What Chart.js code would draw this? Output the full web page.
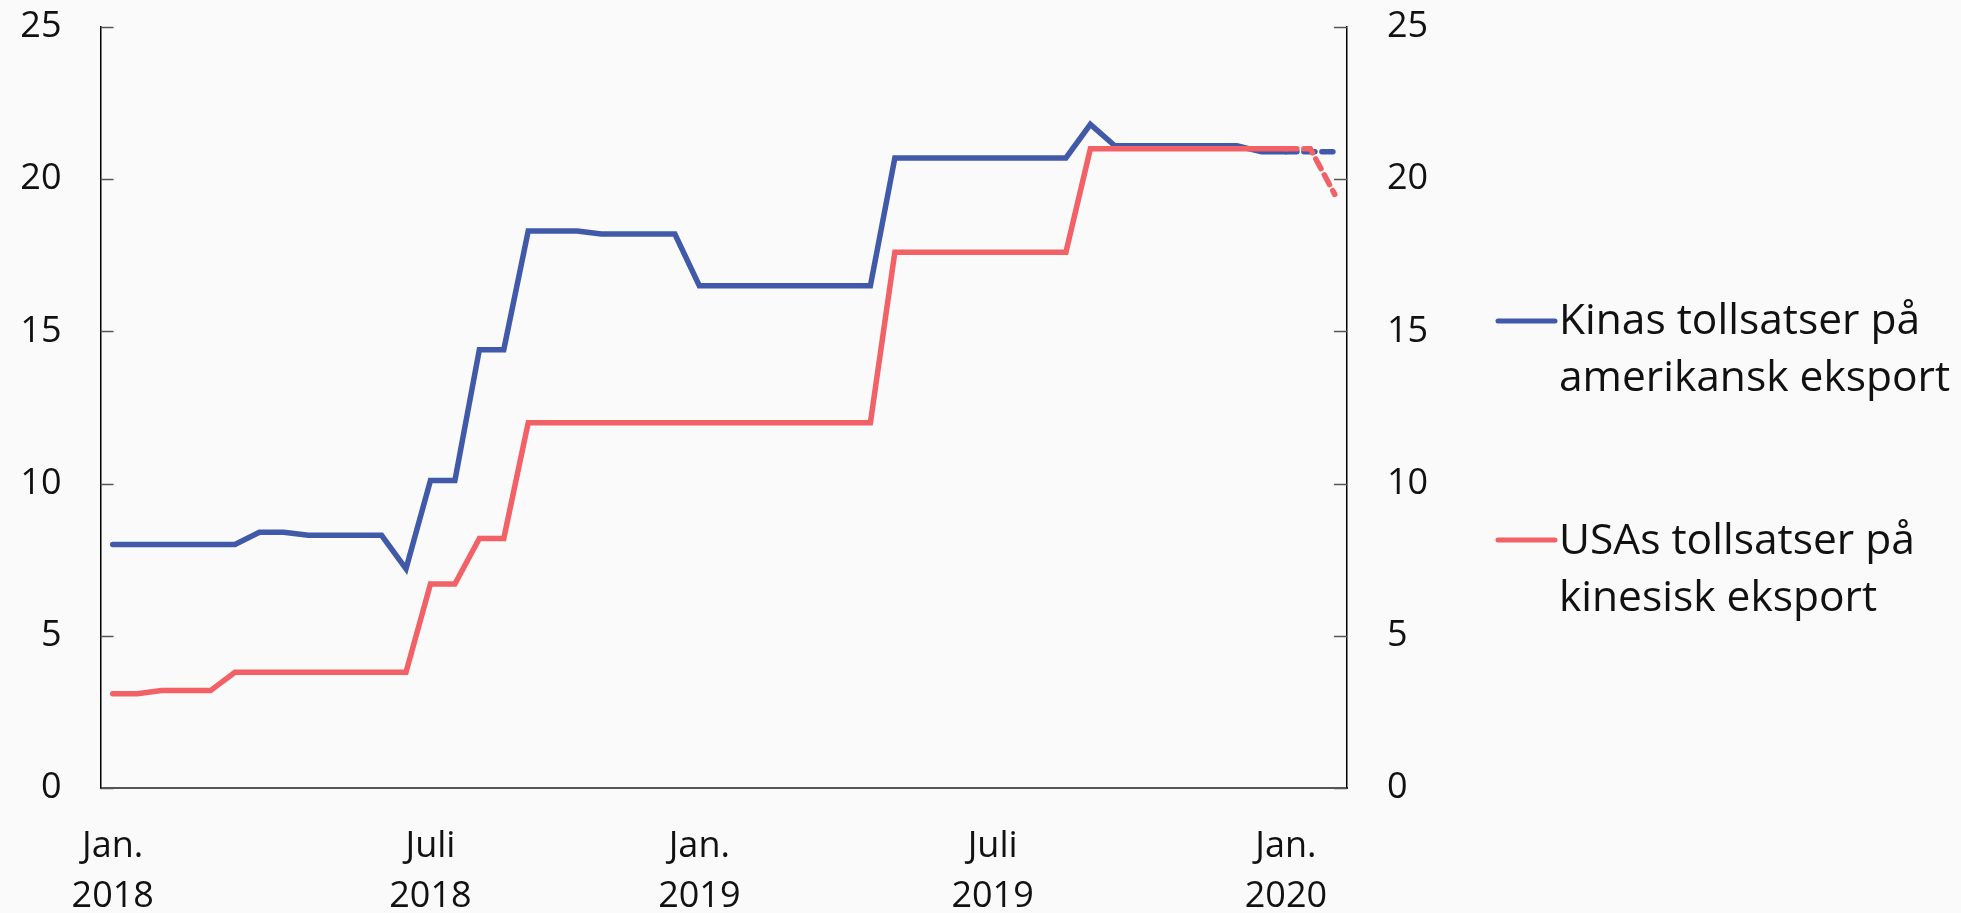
<!DOCTYPE html>
<html>
<head>
<meta charset="utf-8">
<script src="https://cdn.jsdelivr.net/npm/chart.js@4"></script>
<style>
html,body{margin:0;padding:0;background:#fafafa;}
canvas{display:block;}
</style>
</head>
<body>
<canvas id="c" width="1961" height="913"></canvas>
<script>
// Semi-monthly observations, Jan 2018 – Feb 2020
const categories = [];
for (let y = 2018; y <= 2020; y++) {
  for (let m = 1; m <= 12; m++) {
    for (const d of ['01','15']) {
      if (categories.length < 51) categories.push(y + '-' + String(m).padStart(2,'0') + '-' + d);
    }
  }
}

const chinaOnUS = [8.0,8.0,8.0,8.0,8.0,8.0,8.4,8.4,8.3,8.3,8.3,8.3,7.2,10.1,10.1,14.4,14.4,18.3,18.3,18.3,
  18.2,18.2,18.2,18.2,16.5,16.5,16.5,16.5,16.5,16.5,16.5,16.5,20.7,20.7,20.7,20.7,20.7,20.7,20.7,20.7,
  21.8,21.1,21.1,21.1,21.1,21.1,21.1,20.9,20.9,20.9,20.9];
const usOnChina = [3.1,3.1,3.2,3.2,3.2,3.8,3.8,3.8,3.8,3.8,3.8,3.8,3.8,6.7,6.7,8.2,8.2,12.0,12.0,12.0,
  12.0,12.0,12.0,12.0,12.0,12.0,12.0,12.0,12.0,12.0,12.0,12.0,17.6,17.6,17.6,17.6,17.6,17.6,17.6,17.6,
  21.0,21.0,21.0,21.0,21.0,21.0,21.0,21.0,21.0,21.0,19.5];

const seriesNames = [['Kinas tollsatser på','amerikansk eksport'], ['USAs tollsatser på','kinesisk eksport']];
const forecastFrom = 48; // dashed from this index

const xTickIndex = [0, 13, 24, 36, 48];
const xTickText = [['Jan.','2018'], ['Juli','2018'], ['Jan.','2019'], ['Juli','2019'], ['Jan.','2020']];
const yTicks = [0, 5, 10, 15, 20, 25];

const BLUE = '#4159a9';
const RED = '#f26166';
const FONT = "'Open Sans', 'Noto Sans', sans-serif";

Chart.defaults.font.family = FONT;
Chart.defaults.color = '#111';

const dashSeg = { borderDash: ctx => ctx.p0DataIndex >= forecastFrom ? [11, 7] : undefined };

const bgPlugin = {
  id: 'bg',
  beforeDraw(chart) {
    const c = chart.ctx;
    c.save(); c.fillStyle = '#fafafa'; c.fillRect(0, 0, chart.width, chart.height); c.restore();
  }
};

const innerTicks = {
  id: 'innerTicks',
  afterDatasetsDraw(chart) {
    const c = chart.ctx, a = chart.chartArea, ys = chart.scales.y;
    c.save();
    c.strokeStyle = '#555'; c.lineWidth = 1.5;
    ys.ticks.forEach(t => {
      const py = Math.round(ys.getPixelForValue(t.value)) + 0.5;
      c.beginPath(); c.moveTo(a.left, py); c.lineTo(a.left + 13, py); c.stroke();
      c.beginPath(); c.moveTo(a.right - 13, py); c.lineTo(a.right, py); c.stroke();
    });
    c.restore();
  }
};

const legendPlugin = {
  id: 'sideLegend',
  afterDraw(chart) {
    const c = chart.ctx;
    const ds = chart.data.datasets;
    const x0 = 1498, x1 = 1555, tx = 1559;
    const rows = [{ ly: 321, b1: 334 }, { ly: 540, b1: 554 }];
    c.save();
    c.font = '42.5px ' + FONT;
    c.textBaseline = 'alphabetic';
    c.textAlign = 'left';
    ds.forEach((d, i) => {
      const r = rows[i];
      c.strokeStyle = d.borderColor; c.lineWidth = 5; c.lineCap = 'round';
      c.beginPath(); c.moveTo(x0, r.ly); c.lineTo(x1, r.ly); c.stroke();
      c.fillStyle = '#111';
      d.label.forEach((line, k) => c.fillText(line, tx, r.b1 + k * 56.5));
    });
    c.restore();
  }
};

const yFit = w => s => { s.width = w; s.paddingTop = 0; s.paddingBottom = 0; };

new Chart(document.getElementById('c'), {
  type: 'line',
  data: {
    labels: categories,
    datasets: [
      { label: seriesNames[0], data: chinaOnUS, borderColor: BLUE, backgroundColor: BLUE, borderWidth: 5.5,
        pointRadius: 0, tension: 0, order: 1, borderCapStyle: 'round', borderJoinStyle: 'miter', segment: dashSeg },
      { label: seriesNames[1], data: usOnChina, borderColor: RED, backgroundColor: RED, borderWidth: 5.5,
        pointRadius: 0, tension: 0, order: 0, borderCapStyle: 'round', borderJoinStyle: 'miter', segment: dashSeg }
    ]
  },
  options: {
    responsive: false,
    animation: false,
    layout: { padding: { top: 27, left: 0, right: 0, bottom: 0 } },
    plugins: { legend: { display: false }, tooltip: { enabled: false } },
    scales: {
      x: {
        type: 'category',
        offset: true,
        grid: { display: false, drawTicks: false },
        border: { display: true, color: '#555', width: 2 },
        ticks: {
          autoSkip: false, maxRotation: 0, minRotation: 0, padding: 34,
          font: { size: 36, lineHeight: 1.38 }, color: '#111',
          callback: (v, i) => { const k = xTickIndex.indexOf(i); return k >= 0 ? xTickText[k] : ''; }
        },
        afterFit: s => { s.height = 125; s.paddingLeft = 0; s.paddingRight = 0; }
      },
      y: {
        position: 'left', min: 0, max: 25,
        grid: { display: false, drawTicks: false },
        border: { display: true, color: '#000', width: 1.5 },
        ticks: { stepSize: 5, padding: 39, font: { size: 36 }, color: '#111' },
        afterBuildTicks: s => { s.ticks = yTicks.map(v => ({ value: v })); },
        afterFit: yFit(100.5)
      },
      y2: {
        position: 'right', min: 0, max: 25,
        grid: { display: false, drawTicks: false },
        border: { display: true, color: '#000', width: 1.5 },
        ticks: { stepSize: 5, padding: 40, font: { size: 36 }, color: '#111' },
        afterBuildTicks: s => { s.ticks = yTicks.map(v => ({ value: v })); },
        afterFit: yFit(614)
      }
    }
  },
  plugins: [bgPlugin, innerTicks, legendPlugin]
});
</script>
</body>
</html>
